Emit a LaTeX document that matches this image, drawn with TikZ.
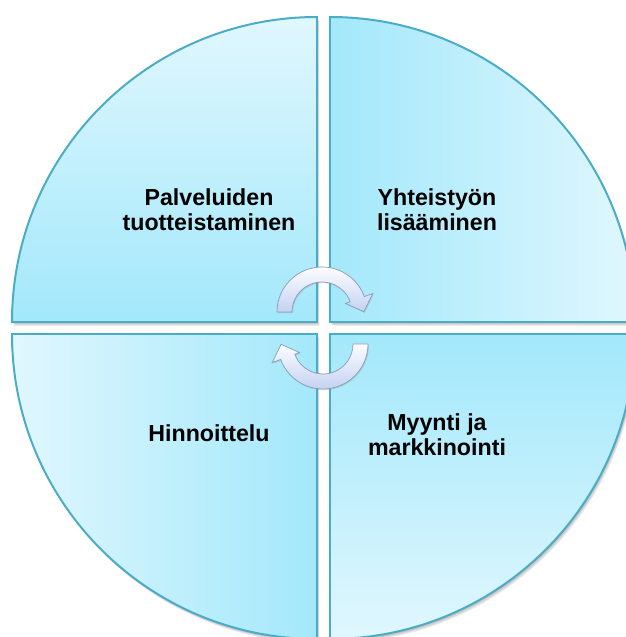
\documentclass[tikz,border=0pt]{standalone}
\usepackage{fontspec}
\setmainfont{Liberation Sans}
\usetikzlibrary{shadows}
\definecolor{kvlight}{RGB}{224,247,254}
\definecolor{kvdark}{RGB}{163,232,251}
\definecolor{kvborder}{RGB}{75,172,198}
\definecolor{nuolilight}{RGB}{252,253,255}
\definecolor{nuolidark}{RGB}{196,210,242}
\definecolor{nuoliborder}{RGB}{140,155,182}
\begin{document}
\begin{tikzpicture}[x=0.3mm,y=0.3mm,
    kvtl/.style={top color=kvlight,bottom color=kvdark},
    kvtr/.style={left color=kvdark,right color=kvlight},
    kvbl/.style={left color=kvlight,right color=kvdark},
    kvbr/.style={top color=kvdark,bottom color=kvlight},
    teksti/.style={font=\bfseries\fontsize{19.8}{21.5}\selectfont,align=center,inner sep=0pt},
    nuoli/.style={draw=nuoliborder,line width=0.6pt,top color=nuolilight,bottom color=nuolidark,
      drop shadow={shadow xshift=0.8pt,shadow yshift=-1pt,opacity=0.25}}]
  \useasboundingbox (0,0) rectangle (626,637);
  \clip (0,0) rectangle (626,637);

  % Varjot neljännesten alle.
  \foreach \cx/\cy/\a in {317/315/90,330/315/0,317/303/180,330/303/270}
    \foreach \s in {1,...,4}
      \fill[black,opacity=0.08] ({\cx+0.6*\s},{\cy-\s}) -- ++(\a:305)
        arc[start angle=\a,end angle=\a+90,radius=305] -- cycle;

  % Neljä neljännesympyrää, väliin jää rako.
  \foreach \cx/\cy/\a/\sty in {317/315/90/kvtl,330/315/0/kvtr,317/303/180/kvbl,330/303/270/kvbr}
    \draw[\sty,draw=kvborder,line width=1.7pt] (\cx,\cy) -- ++(\a:305)
      arc[start angle=\a,end angle=\a+90,radius=305] -- cycle;

  % Kiertonuolet keskellä.
  \begin{scope}[shift={(322,325)}]
    \path[nuoli] (180:45) arc[start angle=180,end angle=20,radius=45] -- (20:54)
      -- (41.9,0.3) -- (20:25) -- (20:30) arc[start angle=20,end angle=180,radius=30] -- cycle;
  \end{scope}
  \begin{scope}[shift={(323,293)},rotate=180]
    \path[nuoli] (180:45) arc[start angle=180,end angle=20,radius=45] -- (20:54)
      -- (41.9,0.3) -- (20:25) -- (20:30) arc[start angle=20,end angle=180,radius=30] -- cycle;
  \end{scope}

  \node[teksti] (palvelut) at (209,427) {Palveluiden\\tuotteistaminen};
  \node[teksti] (yhteistyo) at (437,427) {Yhteistyön\\lisääminen};
  \node[teksti] (hinnoittelu) at (209,204) {Hinnoittelu};
  \node[teksti] (myynti) at (437,202) {Myynti ja\\markkinointi};
\end{tikzpicture}
\end{document}
